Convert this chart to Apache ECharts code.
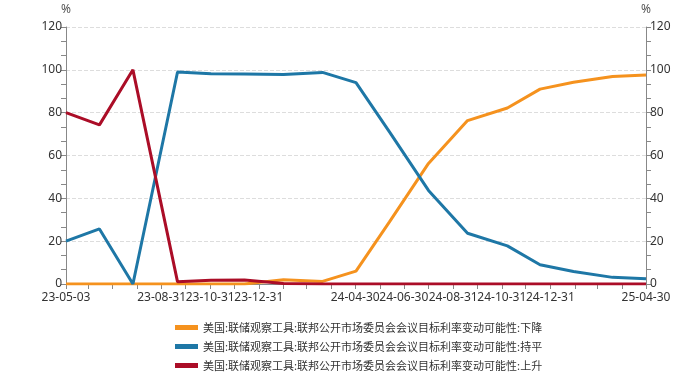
<!DOCTYPE html>
<html>
<head>
<meta charset="utf-8">
<script src="https://cdn.jsdelivr.net/npm/echarts@6/dist/echarts.min.js"></script>
<style>
html,body{margin:0;padding:0;background:#fff;}
#chart{width:682px;height:381px;}
</style>
</head>
<body>
<div id="chart"></div>
<script>
// Meeting dates (YY-MM-DD) and probabilities (%)
var meetingDates = ['23-05-03','23-06-14','23-07-26','23-09-20','23-11-01','23-12-13','24-01-31','24-03-20','24-05-01','24-06-12','24-07-31','24-09-18','24-11-07','24-12-18','25-01-29','25-03-19','25-04-30'];
var probDown = [0, 0, 0, 0, 0, 0, 2, 1.2, 6, 29, 56.3, 76.3, 82.2, 91, 94.2, 96.9, 97.6];
var probHold = [20, 25.7, 0, 99, 98.2, 98.1, 97.8, 98.8, 94, 71, 43.7, 23.7, 17.8, 9, 5.8, 3.1, 2.4];
var probUp   = [80, 74.3, 100, 1, 1.8, 1.9, 0.2, 0, 0, 0, 0, 0, 0, 0, 0, 0, 0];
var shownLabels = ['23-05-03','23-08-31','23-10-31','23-12-31','24-04-30','24-06-30','24-08-31','24-10-31','24-12-31','25-04-30'];
var seriesNames = [
  '美国:联储观察工具:联邦公开市场委员会会议目标利率变动可能性:下降',
  '美国:联储观察工具:联邦公开市场委员会会议目标利率变动可能性:持平',
  '美国:联储观察工具:联邦公开市场委员会会议目标利率变动可能性:上升'
];
var axisStart = '23-05-03', axisEnd = '25-04-30';

function pad(n){return (n<10?'0':'')+n;}
function fmt(d){return pad(d.getUTCFullYear()%100)+'-'+pad(d.getUTCMonth()+1)+'-'+pad(d.getUTCDate());}
function parse(s){var p=s.split('-');return Date.UTC(2000+ +p[0], +p[1]-1, +p[2]);}
var days = [], monthEnds = {};
for (var t = parse(axisStart); t <= parse(axisEnd); t += 86400000) {
  var d = new Date(t), nx = new Date(t + 86400000);
  var s = fmt(d);
  days.push(s);
  if (nx.getUTCMonth() !== d.getUTCMonth()) monthEnds[s] = true;
}
var labelSet = {};
shownLabels.forEach(function(s){labelSet[s]=true;});

function pairs(vals){return meetingDates.map(function(d,i){return [d, vals[i]];});}

var colors = ['#F5921E', '#1E77A6', '#AB0D27'];
var chart = echarts.init(document.getElementById('chart'), null, {renderer:'canvas'});

var yAxisBase = {
  type: 'value', min: 0, max: 120, interval: 20,
  name: '%', nameLocation: 'end', nameGap: 11,
  nameTextStyle: {color: '#555', fontSize: 12, fontFamily: 'Noto Sans'},
  axisLine: {show: true, lineStyle: {color: '#888', width: 1}},
  axisTick: {show: true, length: 5, lineStyle: {color: '#888'}},
  minorTick: {show: true, splitNumber: 3, length: 5, lineStyle: {color: '#888'}},
  axisLabel: {color: '#333', fontSize: 12, margin: 4, fontFamily: 'Noto Sans'}
};

chart.setOption({
  animation: false,
  color: colors,
  grid: {left: 66, right: 36, top: 27, bottom: 97},
  legend: {
    orient: 'vertical', left: 170, top: 317,
    icon: 'rect', itemWidth: 23, itemHeight: 5, itemGap: 8,
    textStyle: {color: '#333', fontSize: 11, fontFamily: 'Noto Sans CJK SC'},
    data: seriesNames
  },
  xAxis: {
    type: 'category', data: days, boundaryGap: false,
    axisLine: {show: true, lineStyle: {color: '#888', width: 1}},
    axisTick: {show: true, length: 5, lineStyle: {color: '#888'},
      interval: function(i, v){ return i === 0 || !!monthEnds[v]; }},
    axisLabel: {color: '#333', fontSize: 12, margin: 8, fontFamily: 'Noto Sans',
      interval: function(i, v){ return !!labelSet[v]; }},
    splitLine: {show: false}
  },
  yAxis: [
    Object.assign({}, yAxisBase, {position: 'left',
      splitLine: {show: true, lineStyle: {type: 'dashed', color: '#ddd'}}}),
    Object.assign({}, yAxisBase, {position: 'right', splitLine: {show: false}})
  ],
  series: [
    {name: seriesNames[0], type: 'line', data: pairs(probDown), showSymbol: false, symbol: 'none', lineStyle: {width: 3}},
    {name: seriesNames[1], type: 'line', data: pairs(probHold), showSymbol: false, symbol: 'none', lineStyle: {width: 3}},
    {name: seriesNames[2], type: 'line', data: pairs(probUp), showSymbol: false, symbol: 'none', lineStyle: {width: 3}}
  ]
});
</script>
</body>
</html>
